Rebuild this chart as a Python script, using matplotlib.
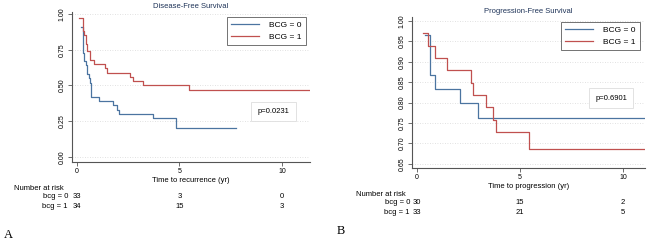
import matplotlib
matplotlib.use("Agg")
import matplotlib.pyplot as plt
import matplotlib.transforms as mtransforms

plt.rcParams['font.family'] = ['Liberation Sans', 'DejaVu Sans']

# Disease-free survival (panel A)
dfs_t0 = [0.2, 0.28, 0.35, 0.42, 0.5, 0.57, 0.63, 0.7, 1.08, 1.75, 1.94, 2.06, 3.69, 4.84, 7.75]
dfs_s0 = [0.91, 0.73, 0.67, 0.64, 0.58, 0.55, 0.52, 0.42, 0.39, 0.36, 0.33, 0.30, 0.27, 0.20, 0.20]
dfs_t1 = [0.1, 0.28, 0.35, 0.42, 0.5, 0.62, 0.83, 1.39, 1.47, 2.6, 2.73, 3.2, 5.47, 11.3]
dfs_s1 = [0.97, 0.88, 0.85, 0.79, 0.74, 0.68, 0.65, 0.62, 0.59, 0.56, 0.53, 0.50, 0.47, 0.47]

# Progression-free survival (panel B)
pfs_t0 = [0.38, 0.62, 0.86, 2.11, 2.94, 11.05]
pfs_s0 = [0.967, 0.867, 0.833, 0.80, 0.763, 0.763]
pfs_t1 = [0.3, 0.55, 0.87, 1.44, 2.6, 2.74, 3.36, 3.67, 3.86, 5.42, 11.0]
pfs_s1 = [0.97, 0.94, 0.909, 0.879, 0.848, 0.818, 0.788, 0.758, 0.727, 0.687, 0.687]

risk_times = [0, 5, 10]
dfs_risk0 = ['33', '3', '0']
dfs_risk1 = ['34', '15', '3']
pfs_risk0 = ['30', '15', '2']
pfs_risk1 = ['33', '21', '5']

BLUE = '#4b74a0'
RED = '#c0504f'
W, H = 650, 241

fig = plt.figure(figsize=(6.5, 2.41), dpi=100)


def px_axes(l, t, r, b):
    return fig.add_axes([l / W, 1 - b / H, (r - l) / W, (b - t) / H])


def style(ax, yticks, fmt):
    for s in ('top', 'right'):
        ax.spines[s].set_visible(False)
    for s in ('left', 'bottom'):
        ax.spines[s].set_color('#555555')
        ax.spines[s].set_linewidth(0.8)
    ax.set_yticks(yticks)
    ax.set_yticklabels([fmt % v for v in yticks], rotation=90, va='center')
    ax.set_xticks([0, 5, 10])
    ax.tick_params(labelsize=5, length=3, width=0.6, color='#555555', pad=1.5)
    for v in yticks:
        ax.axhline(v, color='#d8d8d8', lw=0.6, ls=(0, (1, 2)), zorder=0)


def panel(ax, t0, s0, t1, s1, title, xlabel, pval, ptxt_xy, leg_xy,
          risk0, risk1, risk_y, risk_left, label_right):
    ax.step(t0, s0, where='post', color=BLUE, lw=0.9, label='BCG = 0')
    ax.step(t1, s1, where='post', color=RED, lw=0.9, label='BCG = 1')
    ax.set_title(title, fontsize=5.5, color='#1e3358', pad=3)
    ax.set_xlabel(xlabel, fontsize=5.5, labelpad=1)
    leg = ax.legend(loc='upper right', bbox_to_anchor=(leg_xy[0] / W, 1 - leg_xy[1] / H),
                    bbox_transform=fig.transFigure, borderaxespad=0, fontsize=6,
                    fancybox=False, edgecolor='#333333', handlelength=3.4,
                    labelspacing=0.5, borderpad=0.5, handletextpad=1.2)
    leg.get_frame().set_linewidth(0.6)
    fig.text(ptxt_xy[0] / W, 1 - ptxt_xy[1] / H, pval, fontsize=5.5, ha='center', va='center',
             bbox=dict(boxstyle='square,pad=0.8', fc='white', ec='#dddddd', lw=0.6))
    tr = mtransforms.blended_transform_factory(ax.transData, fig.transFigure)
    fig.text(risk_left / W, 1 - risk_y[0] / H, 'Number at risk', fontsize=5.5, va='center')
    fig.text(label_right / W, 1 - risk_y[1] / H, 'bcg = 0', fontsize=5.5, va='center', ha='right')
    fig.text(label_right / W, 1 - risk_y[2] / H, 'bcg = 1', fontsize=5.5, va='center', ha='right')
    for x, a, b in zip(risk_times, risk0, risk1):
        ax.text(x, 1 - risk_y[1] / H, a, transform=tr, fontsize=5.5, ha='center', va='center')
        ax.text(x, 1 - risk_y[2] / H, b, transform=tr, fontsize=5.5, ha='center', va='center')


axA = px_axes(72, 12.5, 310, 162)
axA.set_xlim(-0.24, 11.37)
axA.set_ylim(-0.035, 1.01)
style(axA, [0.0, 0.25, 0.5, 0.75, 1.0], '%.2f')
panel(axA, dfs_t0, dfs_s0, dfs_t1, dfs_s1, 'Disease-Free Survival',
      'Time to recurrence (yr)', 'p=0.0231', (273.5, 111.5), (306, 17),
      dfs_risk0, dfs_risk1, (188, 197, 207), 14, 68)

axB = px_axes(412, 17, 645, 168)
axB.set_xlim(-0.24, 11.07)
axB.set_ylim(0.6395, 1.01)
style(axB, [0.65, 0.70, 0.75, 0.80, 0.85, 0.90, 0.95, 1.00], '%.2f')
panel(axB, pfs_t0, pfs_s0, pfs_t1, pfs_s1, 'Progression-Free Survival',
      'Time to progression (yr)', 'p=0.6901', (611, 98), (640, 22),
      pfs_risk0, pfs_risk1, (195, 203, 213), 356, 410)

fig.text(4 / W, 1 - 235 / H, 'A', fontsize=9, family='Liberation Serif', ha='left', va='center')
fig.text(337 / W, 1 - 231 / H, 'B', fontsize=9, family='Liberation Serif', ha='left', va='center')

fig.savefig('out.png', dpi=100)
